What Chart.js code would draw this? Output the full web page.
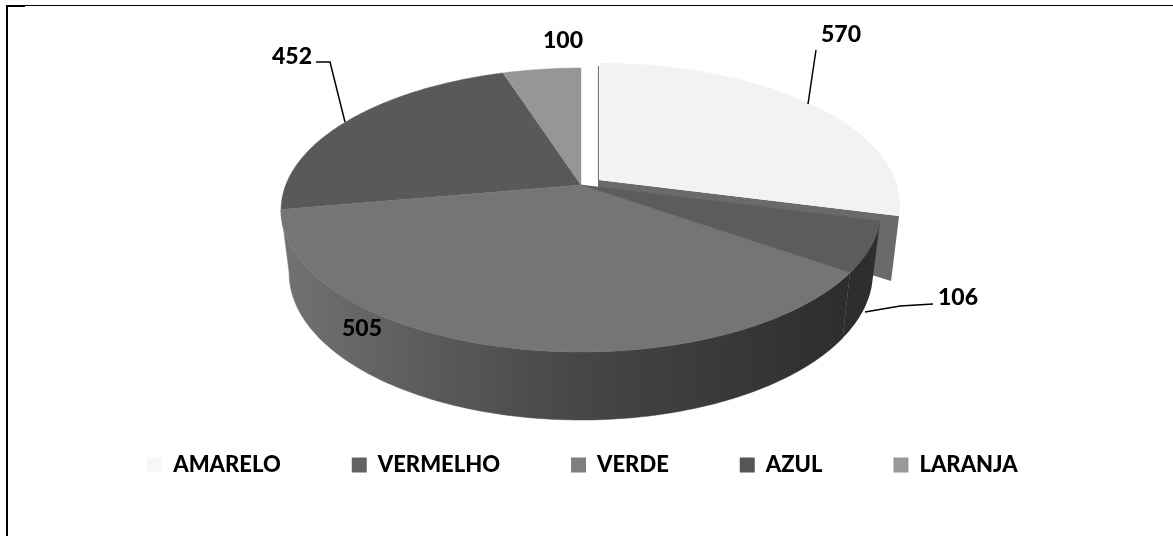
<!DOCTYPE html>
<html><head><meta charset="utf-8">
<style>html,body{margin:0;padding:0;background:#fff}canvas{display:block}</style>
<script src="https://cdn.jsdelivr.net/npm/chart.js@4"></script>
</head><body>
<canvas id="c" width="1173" height="536"></canvas>
<script>
const categories = ["AMARELO","VERMELHO","VERDE","AZUL","LARANJA"];
const values = [570,106,505,452,100];
const topColors = ["#f2f2f2","#5c5c5c","#757575","#595959","#969696"];
const legendColors = ["#f7f7f7","#636363","#7f7f7f","#555555","#999999"];

// 3-D look: homography of the pie disc onto the screen
const P = {cx:581, cy:185, X:295.3, A:137.6, k:0.176};
const warpIn  = [0,118.4,140.4,245.3,339.2,360];
const warpOut = [0,104.5,125,260,342,360];
function warp(d){
  d = ((d%360)+360)%360;
  for(let i=1;i<warpIn.length;i++){
    if(d<=warpIn[i]+1e-6){
      const t=(d-warpIn[i-1])/(warpIn[i]-warpIn[i-1]);
      return warpOut[i-1]+t*(warpOut[i]-warpOut[i-1]);
    }
  }
  return d;
}
function proj(phi, r=1){
  const a=phi*Math.PI/180, u=r*Math.sin(a), v=-r*Math.cos(a), w=1-P.k*v;
  return {x:P.cx+P.X*u/w, y:P.cy+P.A*v/w};
}
function lower(p){ // rim of the underside
  return {x:P.cx+(p.x-P.cx)*0.973, y:P.cy+62+(p.y-P.cy)*1.036};
}
const toDeg = a => (a+Math.PI/2)*180/Math.PI;
function angles(el){
  const s=toDeg(el.startAngle), e=toDeg(el.endAngle);
  return [warp(s), e>=359.999?360:warp(e)];
}
function topPath(ctx,a0,a1,dx=0,dy=0){
  ctx.beginPath(); ctx.moveTo(P.cx+dx,P.cy+dy);
  for(let d=a0;d<a1;d+=1){const p=proj(d);ctx.lineTo(p.x+dx,p.y+dy);}
  const p=proj(a1);ctx.lineTo(p.x+dx,p.y+dy);ctx.closePath();
}
function wallPath(ctx,a0,a1){
  ctx.beginPath();
  for(let d=a0;d<a1;d+=1){const p=proj(d);ctx.lineTo(p.x,p.y);}
  let p=proj(a1);ctx.lineTo(p.x,p.y);
  p=lower(p);ctx.lineTo(p.x,p.y);
  for(let d=a1;d>a0;d-=1){const q=lower(proj(d));ctx.lineTo(q.x,q.y);}
  p=lower(proj(a0));ctx.lineTo(p.x,p.y);ctx.closePath();
}
const labelText = [
  {i:0,x:841,y:35,line:[[816,50],[808,104]]},
  {i:1,x:958,y:298,line:[[933,304],[900,306],[865,312]]},
  {i:2,x:362,y:329,line:null},
  {i:3,x:292,y:57,line:[[316,62],[330,62],[345,122]]},
  {i:4,x:563,y:41,line:null}
];
const pie3d = {
  id:'pie3d',
  beforeDraw(chart){
    const c=chart.ctx;
    c.save();c.fillStyle='#000';
    c.fillRect(6,5,2,531);c.fillRect(6,5,1167,1);c.fillRect(6,5,19,2);
    c.restore();
  },
  beforeDatasetsDraw(chart){
    const c=chart.ctx, els=chart.getDatasetMeta(0).data;
    const A=els.map(angles);
    const ex={dx:19,dy:-5};
    c.save();
    // cut face of the pulled-out first slice
    const e=proj(A[0][1]); const ex0={x:e.x+ex.dx,y:e.y+ex.dy};
    c.fillStyle='#6a6a6a';
    c.beginPath();
    c.moveTo(P.cx+ex.dx-2,P.cy+ex.dy);
    c.lineTo(ex0.x,ex0.y);
    c.lineTo(ex0.x-8,ex0.y+65);
    c.lineTo(P.cx,P.cy);
    c.lineTo(P.cx+17,P.cy+2);
    c.closePath();c.fill();
    // side walls of the front slices
    const g=c.createLinearGradient(285,0,860,0);
    g.addColorStop(0,'#727272');g.addColorStop(0.2,'#5f5f5f');g.addColorStop(0.5,'#474747');g.addColorStop(1,'#2c2c2c');
    c.fillStyle=g;
    wallPath(c,A[2][0],A[2][1]);c.fill();c.strokeStyle=g;c.lineWidth=0.5;c.stroke();
    c.fillStyle='#2e2e2e';
    wallPath(c,A[1][0],A[1][1]);c.fill();
    // tops
    [3,4,2,1].forEach(i=>{
      c.fillStyle=topColors[i];
      topPath(c,A[i][0],A[i][1]);c.fill();
      c.strokeStyle=topColors[i];c.lineWidth=0.4;c.stroke();
    });
    c.strokeStyle='#777';c.lineWidth=1.2;
    c.beginPath();c.moveTo(P.cx+ex.dx-1.5,P.cy-119);c.lineTo(P.cx+ex.dx-1.5,P.cy+ex.dy+2);c.stroke();
    c.fillStyle=topColors[0];
    topPath(c,A[0][0],A[0][1],ex.dx,ex.dy);c.fill();
    // labels and leaders
    c.strokeStyle='#000';c.lineWidth=1.5;
    c.fillStyle='#000';c.font='900 23px Lato';c.textAlign='center';c.textBaseline='middle';
    labelText.forEach(l=>{
      c.fillText(String(values[l.i]),l.x,l.y);
      if(l.line){c.beginPath();l.line.forEach((p,j)=>j?c.lineTo(p[0],p[1]):c.moveTo(p[0],p[1]));c.stroke();}
    });
    c.restore();
    return false;
  }
};
new Chart(document.getElementById('c'),{
  type:'pie',
  data:{labels:categories,datasets:[{data:values,backgroundColor:legendColors,borderWidth:0}]},
  plugins:[pie3d],
  options:{
    responsive:false,animation:false,
    layout:{padding:{bottom:50,right:8}},
    plugins:{
      tooltip:{enabled:false},
      legend:{position:'bottom',labels:{boxWidth:15,boxHeight:15,padding:71,color:'#000',font:{family:'Lato',size:22,weight:'900'}}}
    }
  }
});
</script>
</body></html>
